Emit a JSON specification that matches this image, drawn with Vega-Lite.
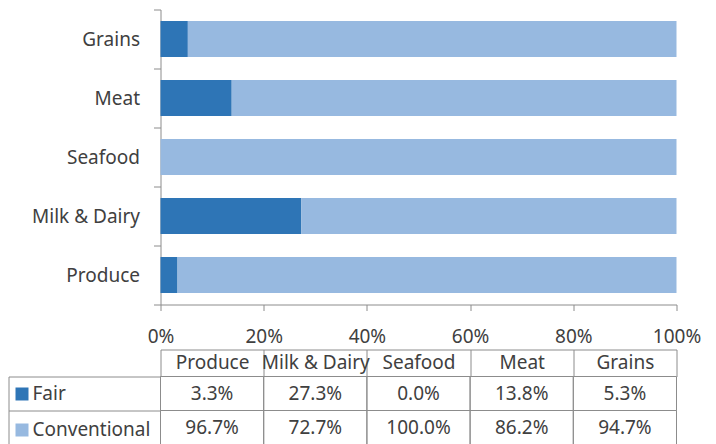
{
  "$schema": "https://vega.github.io/schema/vega-lite/v6.json",
  "autosize": {"type": "pad"},
  "padding": {"left": 7.5, "top": 0.5, "right": 5, "bottom": 0},
  "bounds": "flush",
  "spacing": 72,
  "config": {
    "view": {"stroke": null},
    "font": "Noto Sans",
    "axis": {
      "labelFont": "Noto Sans",
      "labelFontSize": 19,
      "labelColor": "#404040",
      "domainColor": "#8C8C8C",
      "tickColor": "#8C8C8C",
      "title": null,
      "grid": false
    }
  },
  "datasets": {
    "d": [
      {"category": "Produce", "type": "Fair", "value": 0.033},
      {"category": "Produce", "type": "Conventional", "value": 0.967},
      {"category": "Milk & Dairy", "type": "Fair", "value": 0.273},
      {"category": "Milk & Dairy", "type": "Conventional", "value": 0.727},
      {"category": "Seafood", "type": "Fair", "value": 0.0},
      {"category": "Seafood", "type": "Conventional", "value": 1.0},
      {"category": "Meat", "type": "Fair", "value": 0.138},
      {"category": "Meat", "type": "Conventional", "value": 0.862},
      {"category": "Grains", "type": "Fair", "value": 0.053},
      {"category": "Grains", "type": "Conventional", "value": 0.947}
    ]
  },
  "vconcat": [
    {
      "width": 516,
      "height": 295,
      "data": {"name": "d"},
      "mark": {"type": "bar", "height": {"band": 0.61}},
      "encoding": {
        "y": {
          "field": "category",
          "type": "nominal",
          "sort": ["Grains", "Meat", "Seafood", "Milk & Dairy", "Produce"],
          "scale": {"paddingInner": 0, "paddingOuter": 0},
          "axis": {"tickBand": "extent", "tickSize": 7, "labelPadding": 14}
        },
        "x": {
          "field": "value",
          "type": "quantitative",
          "stack": "zero",
          "scale": {"domain": [0, 1], "nice": false},
          "axis": {"values": [0, 0.2, 0.4, 0.6, 0.8, 1], "format": "%", "tickSize": 6, "labelPadding": 17, "labelFlush": false}
        },
        "color": {
          "field": "type",
          "type": "nominal",
          "scale": {"domain": ["Fair", "Conventional"], "range": ["#2E75B6", "#97B9E0"]},
          "legend": {
            "orient": "none",
            "legendX": -148,
            "legendY": 375,
            "title": null,
            "symbolType": "square",
            "symbolSize": 169,
            "symbolStrokeWidth": 0,
            "symbolOpacity": 1,
            "labelFont": "Noto Sans",
            "labelFontSize": 19,
            "labelColor": "#404040",
            "labelOffset": 1,
            "rowPadding": 16
          }
        },
        "order": {"field": "type", "sort": "descending"}
      }
    },
    {
      "width": 516,
      "height": 68,
      "data": {"name": "d"},
      "encoding": {
        "x": {
          "field": "category",
          "type": "nominal",
          "sort": ["Produce", "Milk & Dairy", "Seafood", "Meat", "Grains"],
          "scale": {"paddingInner": 0, "paddingOuter": 0},
          "axis": {"orient": "top", "offset": 27, "tickSize": -27, "tickBand": "extent", "labelPadding": 14, "labelBaseline": "middle", "labelAngle": 0}
        },
        "y": {
          "field": "type",
          "type": "nominal",
          "sort": ["Fair", "Conventional"],
          "scale": {"paddingInner": 0, "paddingOuter": 0},
          "axis": {"offset": 152, "tickSize": -152, "tickBand": "extent", "labels": false}
        }
      },
      "layer": [
        {"mark": {"type": "rect", "fill": "#FFFFFF", "fillOpacity": 0, "stroke": "#8C8C8C", "strokeWidth": 1}},
        {
          "mark": {"type": "text", "font": "Noto Sans", "fontSize": 19, "fill": "#404040"},
          "encoding": {"text": {"field": "value", "type": "quantitative", "format": ".1%"}}
        }
      ]
    }
  ]
}
